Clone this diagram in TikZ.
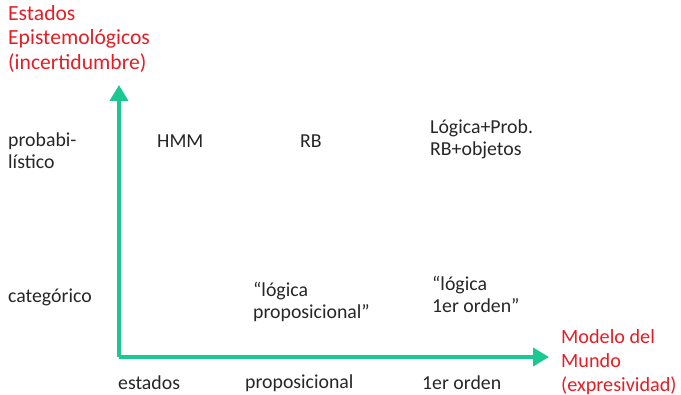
\documentclass[tikz,border=0pt]{standalone}
\usepackage{fontspec}
\setmainfont{Carlito}
\usetikzlibrary{arrows.meta}
\definecolor{axisgreen}{RGB}{28,200,146}
\definecolor{titlered}{RGB}{228,30,38}
\tikzset{
  lbl/.style={anchor=west, inner sep=0pt, align=left, text=black!85, font=\fontsize{19.8}{22}\selectfont},
  axtitle/.style={anchor=west, inner sep=0pt, align=left, text=titlered, font=\fontsize{21.6}{24.5}\selectfont},
  axtitlex/.style={axtitle, font=\fontsize{20.2}{24}\selectfont},
  axisline/.style={draw=axisgreen, line width=4pt, -{Triangle[length=16pt,width=18pt]}}
}
\begin{document}
\begin{tikzpicture}[x=1pt,y=-1pt]
\useasboundingbox (0,0) rectangle (681,395);
\coordinate (O) at (119,357);
\coordinate (Ytip) at (119,85);
\coordinate (Xtip) at (549,357);
\draw[axisline] (O) -- (Ytip);
\draw[axisline] (O) -- (Xtip);
\node[axtitle] (ytitle) at (8,39) {Estados\\Epistemológicos\\(incertidumbre)};
\node[axtitlex] (xtitle) at (561,362) {Modelo del\\Mundo\\(expresividad)};
\node[lbl] (prob) at (8,150.5) {probabi-\\lístico};
\node[lbl] (cat) at (8,297) {categórico};
\node[lbl] (hmm) at (157,141) {HMM};
\node[lbl] (rb) at (300,141) {RB};
\node[lbl] (lp) at (430,139) {Lógica+Prob.\\RB+objetos};
\node[lbl] (lprop) at (253,301.5) {“lógica\\proposicional”};
\node[lbl] (lfo) at (432,294) {“lógica\\1er orden”};
\node[lbl] (est) at (118,383) {estados};
\node[lbl] (prop) at (245,383) {proposicional};
\node[lbl] (fo) at (422,383) {1er orden};
\end{tikzpicture}
\end{document}
